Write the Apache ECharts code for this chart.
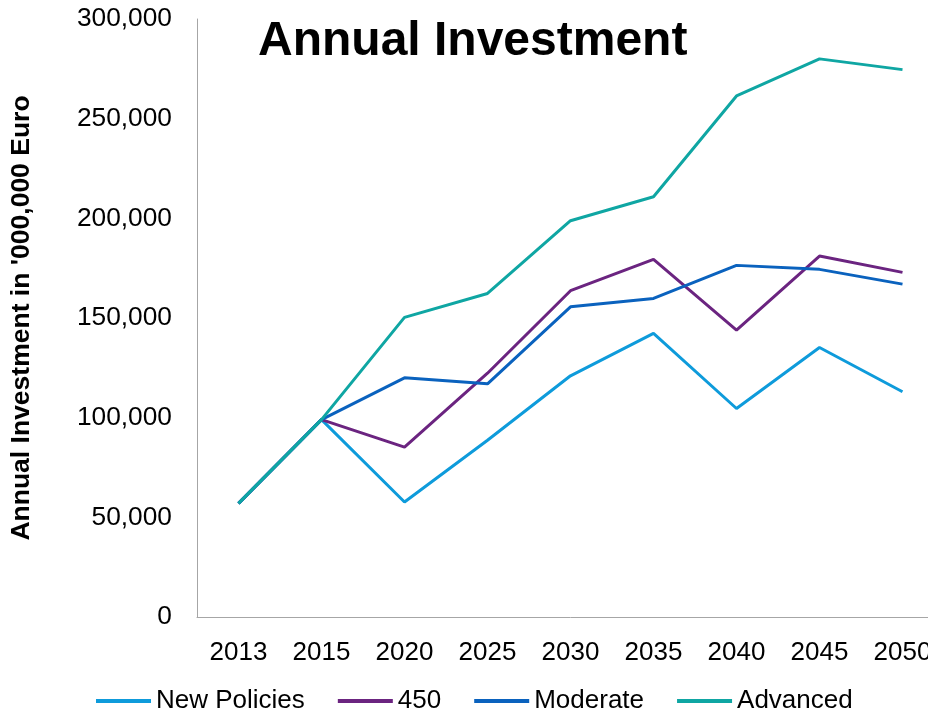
<!DOCTYPE html>
<html>
<head>
<meta charset="utf-8">
<script src="https://cdn.jsdelivr.net/npm/echarts@6/dist/echarts.min.js"></script>
<style>
html,body{margin:0;padding:0;background:#fff;overflow:hidden;width:928px;height:715px;}
#chart{width:944px;height:715px;}
</style>
</head>
<body>
<div id="chart"></div>
<script>
var years = ['2013','2015','2020','2025','2030','2035','2040','2045','2050'];
var newPolicies = [57000, 99000, 57700, 88700, 121000, 142300, 104600, 135200, 113000];
var s450 = [57000, 99000, 85200, 122300, 163700, 179400, 143900, 181100, 172900];
var moderate = [57000, 99000, 120000, 117000, 155600, 159800, 176400, 174400, 167000];
var advanced = [57000, 99000, 150300, 162300, 198800, 210800, 261400, 280000, 274600];
var seriesNames = ['New Policies', '450', 'Moderate', 'Advanced'];
var colors = ['#0E9BDB', '#6B2480', '#0A62BE', '#0FA6A3'];

var FONT = '"Liberation Sans", Arial, sans-serif';
var chart = echarts.init(document.getElementById('chart'));
var dataSets = [newPolicies, s450, moderate, advanced];
chart.setOption({
  animation: false,
  color: colors,
  title: {
    text: 'Annual Investment',
    left: 258, top: 18, padding: 0,
    textStyle: {fontFamily: FONT, fontSize: 48, fontWeight: 'bold', color: '#000'}
  },
  legend: {
    left: 96, top: 688, padding: 0,
    icon: 'rect', itemWidth: 55, itemHeight: 4, itemGap: 33,
    textStyle: {fontFamily: FONT, fontSize: 26, color: '#000'},
    data: seriesNames
  },
  grid: {left: 197, top: 19, right: 0, height: 598, containLabel: false},
  xAxis: {
    type: 'category',
    data: years,
    boundaryGap: true,
    axisLine: {lineStyle: {color: '#a6a6a6', width: 1}},
    axisTick: {show: false},
    axisLabel: {fontFamily: FONT, fontSize: 26, color: '#000', margin: 23},
    splitLine: {show: false}
  },
  yAxis: {
    type: 'value',
    min: 0, max: 300000, interval: 50000,
    name: "Annual Investment in '000,000 Euro",
    nameLocation: 'middle', nameRotate: 90, nameGap: 162,
    nameTextStyle: {fontFamily: FONT, fontSize: 26.5, fontWeight: 'bold', color: '#000'},
    axisLine: {show: true, lineStyle: {color: '#a6a6a6', width: 1}},
    axisTick: {show: false},
    splitLine: {show: false},
    axisLabel: {
      fontFamily: FONT, fontSize: 26.3, color: '#000', margin: 25,
      formatter: function (v) { return v.toLocaleString('en-US'); }
    }
  },
  series: seriesNames.map(function (n, i) {
    return {
      name: n, type: 'line', data: dataSets[i],
      symbol: 'none', lineStyle: {width: 3, color: colors[i]},
      itemStyle: {color: colors[i]}
    };
  })
});
</script>
</body>
</html>
